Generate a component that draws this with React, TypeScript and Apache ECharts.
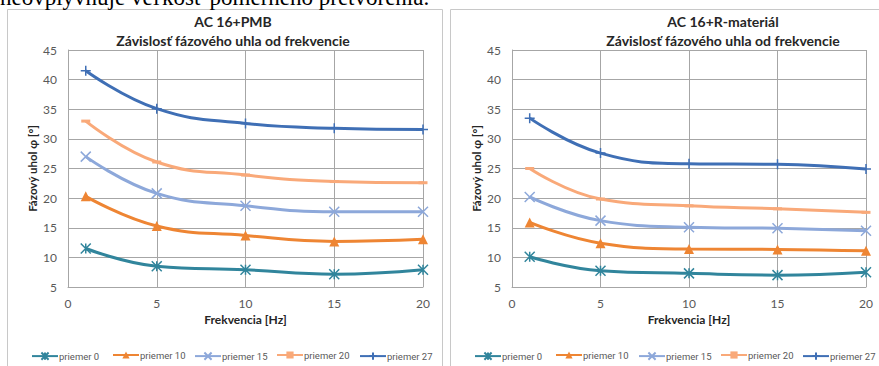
import React, { useEffect, useRef } from "react";
import * as echarts from "echarts";

const freq = [1, 5, 10, 15, 20];
const seriesNames = ["priemer 0", "priemer 10", "priemer 15", "priemer 20", "priemer 27"];

// AC 16+PMB
const pmb0 = [11.5, 8.5, 7.9, 7.15, 7.9];
const pmb10 = [20.3, 15.3, 13.7, 12.7, 13.05];
const pmb15 = [27.0, 20.8, 18.7, 17.7, 17.7];
const pmb20 = [33.0, 26.1, 23.9, 22.8, 22.6];
const pmb27 = [41.5, 35.1, 32.6, 31.8, 31.6];

// AC 16+R-materiál
const rm0 = [10.1, 7.75, 7.3, 7.0, 7.5];
const rm10 = [15.9, 12.4, 11.4, 11.35, 11.1];
const rm15 = [20.2, 16.2, 15.1, 14.9, 14.5];
const rm20 = [25.0, 19.85, 18.7, 18.2, 17.6];
const rm27 = [33.5, 27.6, 25.8, 25.7, 24.9];

const yTicks = { min: 5, max: 45, interval: 5 };
const xTicks = { min: 0, max: 20, interval: 5 };

const titles = ["AC 16+PMB", "AC 16+R-materiál"];
const subtitle = "Závislosť fázového uhla od frekvencie";
const yName = "Fázový uhol φ [°]";
const xName = "Frekvencia [Hz]";
const topText = "neovplyvňuje veľkosť pomerného pretvorenia.";

const colors = ["#31859C", "#EE8533", "#8DA8DA", "#F9A979", "#3F6FB5"];
const STAR = "path://M0,0L10,10M10,0L0,10M5,0L5,10";
const XMARK = "path://M0,0L10,10M10,0L0,10";
const PLUS = "path://M5,0L5,10M0,5L10,5";

export default function App() {
  const ref = useRef<HTMLDivElement>(null);
  useEffect(() => {
    if (!ref.current) return;
    const chart = echarts.init(ref.current, null, { renderer: "svg" });
    const font = "Lato, 'Open Sans', sans-serif";
    const labelColor = "#595959";
    const gridColor = "#A6A6A6";

    const symbolFor = (i: number) => {
      const c = colors[i];
      switch (i) {
        case 0:
          return { symbol: STAR, symbolSize: 10, itemStyle: { color: "none", borderColor: c, borderWidth: 1.5 } };
        case 1:
          return { symbol: "triangle", symbolSize: 10, itemStyle: { color: c, borderColor: c, borderWidth: 0 } };
        case 2:
          return { symbol: XMARK, symbolSize: 10, itemStyle: { color: "none", borderColor: c, borderWidth: 1.5 } };
        case 3:
          return { symbol: "rect", symbolSize: [9, 3], itemStyle: { color: c, borderColor: c, borderWidth: 0 } };
        default:
          return { symbol: PLUS, symbolSize: 10, itemStyle: { color: "none", borderColor: c, borderWidth: 1.5 } };
      }
    };

    const dataSets = [
      [pmb0, pmb10, pmb15, pmb20, pmb27],
      [rm0, rm10, rm15, rm20, rm27],
    ];

    const series: any[] = [];
    dataSets.forEach((set, g) => {
      set.forEach((vals, i) => {
        series.push({
          type: "line",
          name: seriesNames[i],
          xAxisIndex: g,
          yAxisIndex: g,
          data: freq.map((f, k) => [f, vals[k]]),
          smooth: 0.45,
          showSymbol: true,
          lineStyle: { color: colors[i], width: 3 },
          color: colors[i],
          ...symbolFor(i),
        });
      });
    });

    const grids = [
      { left: 68, right: 456, top: 50, bottom: 79 },
      { left: 512, right: 13, top: 50, bottom: 79 },
    ];

    const xAxes = grids.map((_, g) => ({
      type: "value",
      gridIndex: g,
      ...xTicks,
      name: xName,
      nameLocation: "middle",
      nameGap: 21,
      nameTextStyle: { fontFamily: font, fontWeight: "bold", fontSize: 12, color: "#262626" },
      axisLine: { show: true, lineStyle: { color: gridColor, width: 1 } },
      axisTick: { show: false },
      axisLabel: { color: labelColor, fontFamily: font, fontSize: 12, margin: 10 },
      splitLine: { show: true, lineStyle: { color: gridColor, width: 1 } },
    }));

    const yAxes = grids.map((_, g) => ({
      type: "value",
      gridIndex: g,
      ...yTicks,
      name: yName,
      nameLocation: "middle",
      nameRotate: 90,
      nameGap: 30,
      nameTextStyle: { fontFamily: font, fontWeight: "bold", fontSize: 11.5, color: "#262626" },
      axisLine: { show: true, lineStyle: { color: gridColor, width: 1 } },
      axisTick: { show: false },
      axisLabel: { color: labelColor, fontFamily: font, fontSize: 12, margin: 11 },
      splitLine: { show: true, lineStyle: { color: gridColor, width: 1 } },
    }));

    const legendLefts = [
      [26, 107, 189, 271, 354],
      [469, 550, 633, 715, 797],
    ];
    const legends: any[] = [];
    legendLefts.forEach((row) => {
      row.forEach((lx, i) => {
        legends.push({
          data: [seriesNames[i]],
          left: lx,
          top: 345,
          itemWidth: 26,
          itemHeight: 9,
          itemGap: 2,
          textStyle: {
            fontFamily: "Roboto, sans-serif",
            fontSize: 9.5,
            color: labelColor,
            padding: [0, 0, 0, -4],
          },
          selectedMode: false,
        });
      });
    });

    const titleCenters = [233, 723];
    const titleStyle = { fontFamily: font, fontWeight: "bold", fontSize: 14, color: "#262626" };
    const titleOpts: any[] = [];
    titleCenters.forEach((cx, g) => {
      titleOpts.push({ text: titles[g], left: cx, top: 14, textAlign: "center", padding: 0, textStyle: titleStyle });
      titleOpts.push({ text: subtitle, left: cx, top: 33, textAlign: "center", padding: 0, textStyle: titleStyle });
    });

    chart.setOption({
      animation: false,
      backgroundColor: "#ffffff",
      title: titleOpts,
      grid: grids,
      xAxis: xAxes,
      yAxis: yAxes,
      legend: legends,
      series,
      graphic: [
        {
          type: "rect",
          shape: { x: 7.5, y: 9.5, width: 435, height: 400 },
          style: { fill: "none", stroke: "#C8C8C8", lineWidth: 1 },
          silent: true,
          z: 0,
        },
        {
          type: "rect",
          shape: { x: 450.5, y: 9.5, width: 440, height: 400 },
          style: { fill: "none", stroke: "#C8C8C8", lineWidth: 1 },
          silent: true,
          z: 0,
        },
        {
          type: "text",
          x: 0,
          y: -14,
          style: {
            text: topText,
            font: "23px 'Liberation Serif', 'DejaVu Serif', serif",
            fill: "#000000",
          },
          silent: true,
        },
      ],
    });
    return () => chart.dispose();
  }, []);

  return (
    <div
      ref={ref}
      style={{ position: "absolute", left: 0, top: 0, width: 879, height: 366, background: "#fff" }}
    />
  );
}
